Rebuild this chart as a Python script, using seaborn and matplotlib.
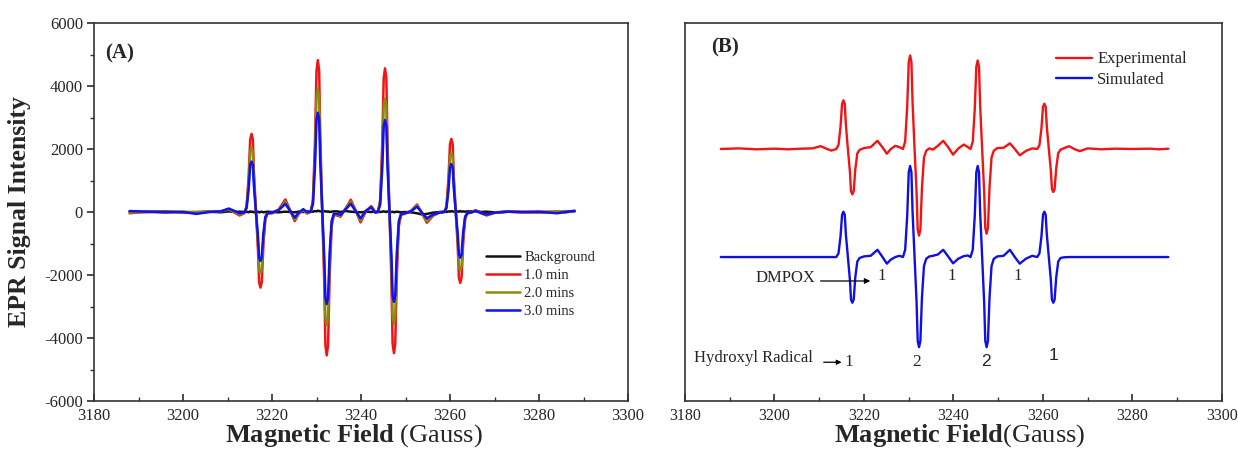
import numpy as np
import pandas as pd
import matplotlib
matplotlib.use("Agg")
import matplotlib.pyplot as plt
from matplotlib.ticker import MultipleLocator
import seaborn as sns

# ---------------- data ----------------
field = [
    3188, 3192, 3196, 3200, 3203, 3206, 3208.5, 3210.3, 3211.6, 3212.7,
    3213.8, 3214.3, 3214.75, 3215.1, 3215.4, 3215.7, 3215.95, 3216.4, 3216.85, 3217.1, 3217.4, 3217.7, 3218.05, 3218.5, 3219.0,
    3220.0, 3221.5, 3223.0, 3224.1, 3225.1, 3226.0, 3227.0, 3227.9,
    3228.7, 3229.2, 3229.65, 3230.0, 3230.3, 3230.6, 3230.85, 3231.3, 3231.75, 3232.0, 3232.3, 3232.6, 3232.95, 3233.4, 3233.9,
    3234.6, 3235.4, 3236.5, 3237.7, 3238.8, 3239.9, 3241.1, 3242.3, 3243.2,
    3243.8, 3244.3, 3244.75, 3245.1, 3245.4, 3245.7, 3245.95, 3246.4, 3246.85, 3247.1, 3247.4, 3247.7, 3248.05, 3248.5, 3249.0,
    3249.8, 3251.2, 3252.6, 3253.7, 3254.8, 3256.2, 3257.6,
    3258.7, 3259.2, 3259.65, 3260.0, 3260.3, 3260.6, 3260.85, 3261.3, 3261.75, 3262.0, 3262.3, 3262.6, 3262.95, 3263.4, 3263.9,
    3264.6, 3265.8, 3267.0, 3268.2, 3270.0, 3273, 3276, 3280, 3284, 3286, 3288]

background = [
    10, 0, 20, -10, 0, 10, -10, 20, 0, 10,
    0, 10, -10, 20, 0, 10, -10, 0, 10, -10, 0, 10, -10, 0, 10,
    0, -10, 10, 0, -10, 10, 0, 10,
    20, 10, 30, 20, 40, 30, 20, 10, 30, 20, 10, 20, 0, 10, 20,
    20, 0, 30, 10, 0, -10, 10, 0, 20,
    10, 0, 10, 20, 10, 0, 20, 10, 0, 10, -10, 0, 10, 0, -10,
    0, -10, -40, -80, -60, -20, 0,
    10, 0, 20, 10, 30, 20, 10, 0, 20, 10, 30, 10, 20, 10, 20,
    20, 30, 0, 10, -10, 10, 0, -10, 0, 10, 20]

min_1 = [
    -40, 10, -10, 0, -20, 10, 20, 90, -20, -110,
    -40, 200, 1120, 2300, 2480, 2300, 1240, 0, -1200, -2230, -2400, -2230, -1080, -240, -50,
    -40, 80, 400, 50, -290, -60, 60, -50,
    20, 385, 2170, 4480, 4820, 4480, 2410, 0, -2275, -4230, -4550, -4230, -2050, -455, -90,
    -110, -150, 100, 390, 50, -330, 20, 190, 0,
    0, 365, 2050, 4240, 4560, 4240, 2280, 0, -2240, -4170, -4480, -4170, -2015, -450, -90,
    -60, 30, 240, -40, -340, -120, -20,
    0, 185, 1045, 2160, 2320, 2160, 1160, 0, -1125, -2090, -2250, -2090, -1010, -225, -45,
    -20, 60, -40, -110, -30, 10, -10, 0, 10, -10, 30]

min_2 = [
    -20, 0, 10, 10, -10, 10, 20, 80, -10, -80,
    -30, 165, 920, 1905, 2050, 1905, 1025, 0, -975, -1815, -1950, -1815, -880, -195, -40,
    -30, 70, 330, 40, -240, -40, 70, -30,
    10, 315, 1765, 3645, 3920, 3645, 1960, 0, -1800, -3350, -3600, -3350, -1620, -360, -70,
    -90, -120, 90, 330, 40, -270, 30, 170, 0,
    0, 290, 1620, 3350, 3600, 3350, 1800, 0, -1775, -3300, -3550, -3300, -1600, -355, -70,
    -50, 30, 210, -30, -290, -100, -10,
    0, 150, 845, 1750, 1880, 1750, 940, 0, -925, -1720, -1850, -1720, -830, -185, -40,
    -20, 50, -30, -90, -20, 10, 0, 0, 10, 0, 20]

min_3 = [
    30, 10, -10, 0, -60, 0, 20, 110, 30, -40,
    -10, 130, 720, 1490, 1600, 1490, 800, 0, -775, -1440, -1550, -1440, -700, -155, -30,
    -20, 60, 260, 30, -180, -20, 90, 0,
    0, 250, 1420, 2930, 3150, 2930, 1575, 0, -1460, -2715, -2920, -2715, -1315, -290, -60,
    -60, -90, 80, 260, 30, -200, 40, 150, -20,
    0, 235, 1315, 2715, 2920, 2715, 1460, 0, -1425, -2650, -2850, -2650, -1280, -285, -60,
    -40, 20, 170, -20, -200, -80, -20,
    0, 120, 685, 1415, 1520, 1415, 760, 0, -725, -1350, -1450, -1350, -650, -145, -30,
    -20, 30, -30, -80, -20, 10, 0, 10, -40, 0, 40]

experimental = [
    0, 20, -10, 10, -10, 10, 20, 90, 10, -50,
    0, 125, 695, 1435, 1545, 1435, 770, 0, -720, -1340, -1440, -1340, -650, -145, -30,
    30, 60, 260, 60, -150, 0, 100, 60,
    0, 240, 1335, 2760, 2970, 2760, 1485, 0, -1375, -2560, -2750, -2560, -1240, -275, -55,
    20, -20, 100, 260, 60, -180, 20, 140, 60,
    0, 225, 1265, 2610, 2810, 2610, 1405, 0, -1345, -2500, -2690, -2500, -1210, -270, -55,
    30, 40, 180, 0, -200, -60, 20,
    0, 115, 650, 1340, 1440, 1340, 720, 0, -680, -1270, -1365, -1270, -615, -135, -25,
    20, 90, 0, -70, 20, -10, 10, 0, 10, -10, 10]

simulated = [
    0, 0, 0, 0, 0, 0, 0, 0, 0, 0,
    0, 115, 650, 1340, 1440, 1340, 720, 0, -725, -1350, -1450, -1350, -650, -145, -30,
    20, 40, 230, 10, -210, -80, 0, 40,
    0, 230, 1300, 2690, 2890, 2690, 1445, 0, -1430, -2660, -2860, -2660, -1285, -285, -55,
    20, 40, 80, 230, 20, -200, -50, 30, 50,
    0, 230, 1300, 2690, 2890, 2690, 1445, 0, -1430, -2660, -2860, -2660, -1285, -285, -55,
    20, 40, 230, 0, -210, -50, 40,
    0, 115, 650, 1340, 1440, 1340, 720, 0, -725, -1350, -1450, -1350, -650, -145, -30,
    -10, 0, 0, 0, 0, 0, 0, 0, 0, 0, 0]

exp_offset = 2000
sim_offset = -1430

series_A = ["Background", "1.0 min", "2.0 mins", "3.0 mins"]
colors_A = {"Background": "#111111", "1.0 min": "#f01414",
            "2.0 mins": "#8a8a10", "3.0 mins": "#1010f0"}
series_B = ["Experimental", "Simulated"]
colors_B = {"Experimental": "#f01414", "Simulated": "#1010e0"}

dmpox_pos = [3223.9, 3239.5, 3254.3]
dmpox_lab = ["1", "1", "1"]
hydroxyl_pos = [3216.5, 3231.8, 3247.2, 3262.4]
hydroxyl_lab = ["1", "2", "2", "1"]

# ---------------- style ----------------
sns.set_theme(style="ticks")
plt.rcParams["font.family"] = ["Liberation Serif", "DejaVu Serif"]
plt.rcParams["mathtext.fontset"] = "custom"
plt.rcParams["mathtext.rm"] = "Liberation Serif"
plt.rcParams["mathtext.bf"] = "Liberation Serif:bold"
plt.rcParams["axes.edgecolor"] = "#333333"
plt.rcParams["axes.linewidth"] = 1.2
plt.rcParams["axes.unicode_minus"] = False

fig = plt.figure(figsize=(12.38, 4.49), dpi=100)
W, H = 1238, 449
axA = fig.add_axes([94 / W, (H - 401) / H, 534 / W, 378 / H])
axB = fig.add_axes([685 / W, (H - 401) / H, 537 / W, 378 / H])

# ---------------- panel A ----------------
dfA = pd.DataFrame({
    "field": field * 4,
    "intensity": background + min_1 + min_2 + min_3,
    "series": sum([[s] * len(field) for s in series_A], []),
})
for s in series_A:
    sns.lineplot(data=dfA[dfA.series == s], x="field", y="intensity", ax=axA,
                 color=colors_A[s], lw=1.8, sort=False, estimator=None, label=s)

axA.set_xlim(3180, 3300)
axA.set_ylim(-6000, 6000)
axA.xaxis.set_major_locator(MultipleLocator(20))
axA.xaxis.set_minor_locator(MultipleLocator(10))
axA.yaxis.set_major_locator(MultipleLocator(2000))
axA.yaxis.set_minor_locator(MultipleLocator(1000))
axA.tick_params(axis="x", which="both", direction="in", top=False, labelsize=12, pad=5, color="#333333")
axA.tick_params(axis="x", which="major", length=5)
axA.tick_params(axis="x", which="minor", length=3)
axA.tick_params(axis="y", which="both", direction="out", right=False, labelsize=12, pad=3, color="#333333")
axA.tick_params(axis="y", which="major", length=5)
axA.tick_params(axis="y", which="minor", length=3)
axA.set_xlabel(r"$\mathbf{Magnetic\:Field}$ (Gauss)", fontsize=19)
axA.xaxis.set_label_coords(0.487, -0.056)
axA.set_ylabel("EPR Signal Intensity", fontsize=18.5, fontweight="bold")
axA.yaxis.set_label_coords(-0.118, 0.5)
axA.text(0.02, 0.92, "(A)", transform=axA.transAxes, fontsize=15,
         fontweight="bold", va="center", ha="left")
axA.legend(loc="upper left", bbox_to_anchor=(0.735, 0.397), frameon=False,
           fontsize=10.5, handlelength=2.3, handletextpad=0.3, labelspacing=0.33,
           borderpad=0, borderaxespad=0)
for sp in axA.spines.values():
    sp.set_visible(True)

# ---------------- panel B ----------------
dfB = pd.DataFrame({
    "field": field * 2,
    "intensity": [v + exp_offset for v in experimental] + [v + sim_offset for v in simulated],
    "series": sum([[s] * len(field) for s in series_B], []),
})
for s in series_B:
    sns.lineplot(data=dfB[dfB.series == s], x="field", y="intensity", ax=axB,
                 color=colors_B[s], lw=1.7, sort=False, estimator=None, label=s)

axB.set_xlim(3180, 3300)
axB.set_ylim(-6000, 6000)
axB.xaxis.set_major_locator(MultipleLocator(20))
axB.xaxis.set_minor_locator(MultipleLocator(10))
axB.set_yticks([])
axB.tick_params(axis="x", which="both", direction="in", top=False, labelsize=11.5, pad=5, color="#333333")
axB.tick_params(axis="x", which="major", length=5)
axB.tick_params(axis="x", which="minor", length=3)
axB.set_ylabel("")
axB.set_xlabel(r"$\mathbf{Magnetic\:Field}$(Gauss)", fontsize=19)
axB.xaxis.set_label_coords(0.512, -0.056)
axB.text(0.048, 0.935, "(B)", transform=axB.transAxes, fontsize=15,
         fontweight="bold", va="center", ha="left")
axB.legend(loc="upper left", bbox_to_anchor=(0.69, 0.925), frameon=False,
           fontsize=12, handlelength=2.2, handletextpad=0.3, labelspacing=0.25,
           borderpad=0, borderaxespad=0)
for sp in axB.spines.values():
    sp.set_visible(True)

# annotations
axB.text(3202.4, -2080, "DMPOX", fontsize=12, ha="center", va="center")
axB.annotate("", xy=(3221.4, -2190), xytext=(3210.3, -2190),
             arrowprops=dict(arrowstyle="-|>", color="black", lw=0.9,
                             mutation_scale=8, shrinkA=0, shrinkB=0))
for xp, lab in zip(dmpox_pos, dmpox_lab):
    axB.text(xp, -2020, lab, fontsize=12, ha="center", va="center")

axB.text(3182, -4640, "Hydroxyl Radical", fontsize=12, ha="left", va="center")
axB.annotate("", xy=(3215.0, -4770), xytext=(3211.0, -4770),
             arrowprops=dict(arrowstyle="-|>", color="black", lw=0.9,
                             mutation_scale=7, shrinkA=0, shrinkB=0))
hy_fonts = ["Liberation Serif", "Liberation Serif", "Liberation Sans", "Liberation Sans"]
hy_y = [-4770, -4770, -4750, -4570]
for xp, lab, fam, yy in zip(hydroxyl_pos, hydroxyl_lab, hy_fonts, hy_y):
    axB.text(xp, yy, lab, fontsize=12.5, ha="center", va="center", family=fam)

fig.savefig("out.png", dpi=100)
